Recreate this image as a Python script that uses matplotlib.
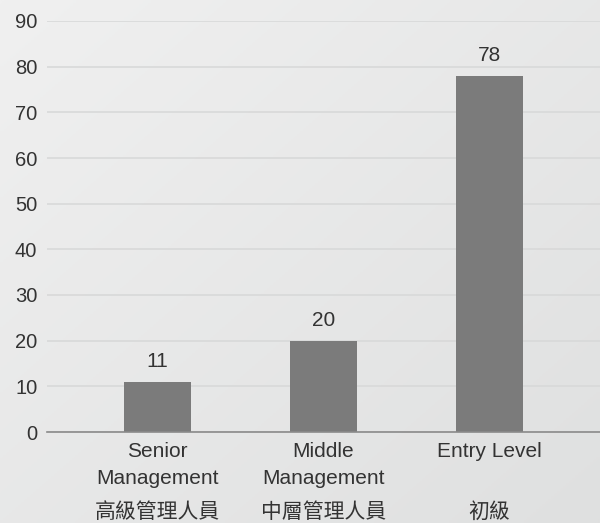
import numpy as np
import matplotlib.pyplot as plt

# data
categories_en = ["Senior\nManagement", "Middle\nManagement", "Entry Level"]
categories_zh = ["高級管理人員", "中層管理人員", "初級"]
values = [11, 20, 78]
y_ticks = [0, 10, 20, 30, 40, 50, 60, 70, 80, 90]

plt.rcParams['font.family'] = ['Liberation Sans', 'Noto Sans CJK TC', 'DejaVu Sans']

W, H = 600, 523
fig = plt.figure(figsize=(W / 100, H / 100), dpi=100)

# soft gradient background
bg = fig.add_axes([0, 0, 1, 1], zorder=-10)
gx, gy = np.meshgrid(np.linspace(0, 1, 200), np.linspace(0, 1, 200))
grad = 0.5 * gx + 0.5 * gy
bg.imshow(grad, cmap=plt.matplotlib.colors.LinearSegmentedColormap.from_list(
    'bg', ['#f0f0f0', '#dfe0e0']), aspect='auto', extent=[0, 1, 0, 1], origin='upper')
bg.axis('off')

left, right = 47 / W, 1.0
bottom, top = (H - 432) / H, (H - 21) / H
ax = fig.add_axes([left, bottom, right - left, top - bottom])
ax.patch.set_alpha(0)

x = np.arange(len(values))
ax.bar(x, values, width=0.40, color='#7b7b7b', zorder=3)
for xi, v in zip(x, values):
    ax.text(xi, v + 2.3, str(v), ha='center', va='bottom', fontsize=15, color='#333333')

ax.set_xlim(-0.666, 2.666)
ax.set_ylim(0, 90)
ax.set_yticks(y_ticks)
ax.yaxis.grid(True, color='#d8d9d9', linewidth=1.2, zorder=0)
ax.tick_params(axis='y', length=0, pad=7, labelsize=14.5, labelcolor='#333333')
ax.tick_params(axis='x', length=0)
ax.set_xticks(x)
ax.set_xticklabels([])
for s in ['top', 'right', 'left']:
    ax.spines[s].set_visible(False)
ax.spines['bottom'].set_color('#8a8a8a')
ax.spines['bottom'].set_linewidth(1.2)
ax.spines['bottom'].set_zorder(4)

for xi, en, zh in zip(x, categories_en, categories_zh):
    ax.annotate(en, xy=(xi, 0), xycoords='data', xytext=(0, -10), textcoords='offset pixels',
                ha='center', va='top', fontsize=15, color='#333333', linespacing=1.5,
                annotation_clip=False)
    ax.annotate(zh, xy=(xi, 0), xycoords='data', xytext=(0, -69), textcoords='offset pixels',
                ha='center', va='top', fontsize=15, color='#333333',
                family=['Noto Sans CJK TC', 'DejaVu Sans'], annotation_clip=False)

fig.savefig('out.png', dpi=100)
